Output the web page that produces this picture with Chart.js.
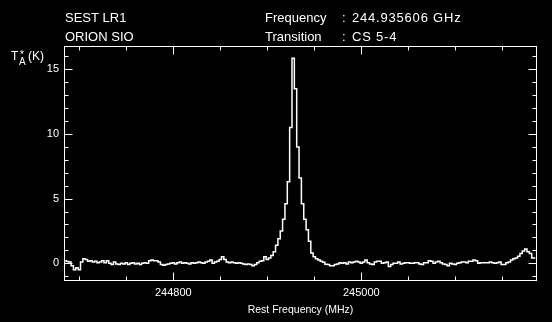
<!DOCTYPE html>
<html>
<head>
<meta charset="utf-8">
<script src="https://cdn.jsdelivr.net/npm/chart.js@4"></script>
<style>
html, body { margin: 0; background: #000; }
canvas { display: block; }
</style>
</head>
<body>
<canvas id="spectrum" width="552" height="322"></canvas>
<script>
// channel grid of the spectrum (MHz)
var firstChan = 244685, chanWidth = 2.5
// antenna temperature T*A (K), one value per channel
var tempK = [
    0.2, 0.13, 0.1, -0.2, -0.5, -0.35, -0.5, 0.1, 0.35, 0.3,
    0.15, 0.2, 0.1, 0.15, 0.05, 0.1, 0.2, 0.05, 0.2, 0.0,
    -0.1, 0.1, -0.05, -0.1, 0.0, -0.05, 0.05, -0.1, 0.0, 0.05,
    -0.05, 0.0, -0.1, 0.0, 0.05, 0.0, 0.2, 0.25, 0.2, 0.2,
    0.1, -0.1, -0.15, -0.1, -0.05, 0.0, 0.05, -0.05, 0.05, 0.1,
    0.0, 0.05, 0.0, -0.05, 0.05, 0.0, 0.05, 0.1, 0.05, 0.0,
    0.1, 0.15, 0.25, 0.0, 0.1, 0.15, 0.3, 0.5, 0.3, 0.1,
    0.05, 0.1, 0.05, 0.0, 0.05, 0.0, -0.05, -0.1, -0.05, -0.1,
    -0.2, -0.1, 0.05, 0.15, 0.2, 0.5, 0.3, 0.4, 0.6, 0.9,
    1.4, 1.9, 2.5, 3.4, 4.6, 6.3, 10.5, 15.85, 13.5, 9.0,
    6.6, 4.6, 3.4, 2.6, 1.7, 0.8, 0.5, 0.35, 0.25, 0.15,
    0.08, -0.08, -0.1, -0.2, -0.2, -0.1, -0.05, 0.05, 0.0, 0.05,
    -0.05, 0.1, 0.05, 0.1, 0.15, 0.1, 0.0, 0.1, 0.25, 0.05,
    -0.05, -0.1, 0.1, 0.15, 0.15, 0.0, 0.05, 0.1, -0.25, -0.1,
    0.0, 0.0, 0.1, -0.05, 0.0, 0.05, 0.05, 0.0, 0.0, 0.05,
    0.05, -0.05, -0.1, 0.05, 0.05, 0.2, 0.15, 0.0, 0.1, 0.15,
    0.05, -0.05, -0.1, -0.2, 0.0, -0.05, -0.1, 0.0, 0.05, 0.1,
    0.1, 0.05, 0.15, 0.15, 0.25, 0.2, 0.0, 0.05, 0.05, 0.05,
    0.05, 0.1, 0.05, 0.0, 0.05, 0.1, -0.1, -0.1, 0.05, 0.1,
    0.25, 0.35, 0.4, 0.55, 0.75, 0.95, 1.1, 0.9, 0.75, 0.4, 0.4
]
var xLabelTicks = [244800, 245000]
var xSmallTicks = [244700, 244750, 244800, 244850, 244900, 244950, 245000, 245050, 245100, 245150]
var yLabelTicks = [0, 5, 10, 15]
var ySmallTicks = [-1, 0, 1, 2, 3, 4, 5, 6, 7, 8, 9, 10, 11, 12, 13, 14, 15, 16]
var headerLeft = ['SEST LR1', 'ORION SIO']
var headerKeys = ['Frequency', 'Transition']
var headerVals = ['244.935606 GHz', 'CS 5-4']

var points = tempK.map(function(t, i){ return {x: firstChan + i*chanWidth, y: t} })
var fam = '"Liberation Sans", Arial, sans-serif'

// black page, boxed frame with inward ticks, header lines
var framePlugin = {
    id: 'frame',
    beforeDraw: function(chart){
        var ctx = chart.ctx
        ctx.save()
        ctx.fillStyle = '#000'
        ctx.fillRect(0, 0, chart.width, chart.height)
        ctx.restore()
    },
    afterDraw: function(chart){
        var ctx = chart.ctx, a = chart.chartArea
        var xs = chart.scales.x, ys = chart.scales.y
        var L = Math.round(a.left) + 0.5, R = Math.round(a.right) - 0.5
        var T = Math.round(a.top) + 0.5, B = Math.round(a.bottom) - 0.5
        ctx.save()
        ctx.strokeStyle = '#fff'
        ctx.lineWidth = 1
        ctx.strokeRect(L, T, R - L, B - T)
        ctx.beginPath()
        xSmallTicks.forEach(function(v){
            var px = Math.round(xs.getPixelForValue(v)) + 0.5
            var len = xLabelTicks.indexOf(v) >= 0 ? 8 : 4
            ctx.moveTo(px, B); ctx.lineTo(px, B - len)
            ctx.moveTo(px, T); ctx.lineTo(px, T + len)
        })
        ySmallTicks.forEach(function(v){
            var py = Math.round(ys.getPixelForValue(v)) + 0.5
            var len = yLabelTicks.indexOf(v) >= 0 ? 8 : 4
            ctx.moveTo(L, py); ctx.lineTo(L + len, py)
            ctx.moveTo(R, py); ctx.lineTo(R - len, py)
        })
        ctx.stroke()

        ctx.fillStyle = '#fff'
        ctx.textBaseline = 'middle'
        ctx.textAlign = 'left'
        ctx.font = '13px ' + fam
        var rows = [18, 37]
        for (var i = 0; i < 2; i++) {
            ctx.letterSpacing = '0px'
            ctx.fillText(headerLeft[i], 65, rows[i])
            ctx.fillText(headerKeys[i], 265, rows[i])
            ctx.fillText(':', 342, rows[i])
            ctx.letterSpacing = '0.8px'
            ctx.fillText(headerVals[i], 352, rows[i])
        }
        ctx.letterSpacing = '0px'
        // y axis label T*A (K)
        ctx.font = '12px ' + fam
        ctx.fillText('T', 11, 57)
        ctx.fillText('(K)', 28, 57)
        ctx.font = '10px ' + fam
        ctx.fillText('A', 19, 62)
        ctx.fillText('*', 20, 55)
        ctx.restore()
    }
}

var ctx = document.getElementById('spectrum').getContext('2d')
var specChart = new Chart(ctx, {
    type: 'line',
    data: {
        datasets: [{
            data: points,
            borderColor: '#fff',
            borderWidth: 1.5,
            pointRadius: 0,
            stepped: 'middle',
            fill: false
        }]
    },
    options: {
        responsive: false,
        animation: false,
        events: [],
        layout: { padding: { top: 46, right: 15, left: 0, bottom: 0 } },
        plugins: { legend: { display: false }, tooltip: { enabled: false } },
        scales: {
            x: {
                type: 'linear',
                min: 244683.7,
                max: 245186.9,
                grid: { display: false, drawTicks: false },
                border: { display: false },
                afterBuildTicks: function(s){ s.ticks = xLabelTicks.map(function(v){ return {value: v} }) },
                afterFit: function(s){ s.height = 41 },
                ticks: {
                    color: '#fff', padding: 5, maxRotation: 0, autoSkip: false,
                    font: { family: fam, size: 11 },
                    callback: function(v){ return String(v) }
                },
                title: {
                    display: true, text: 'Rest Frequency (MHz)', color: '#fff',
                    font: { family: fam, size: 10.5 }, padding: { top: 0, bottom: 6 }
                }
            },
            y: {
                min: -1.37,
                max: 16.8,
                grid: { display: false, drawTicks: false },
                border: { display: false },
                afterBuildTicks: function(s){ s.ticks = yLabelTicks.map(function(v){ return {value: v} }) },
                afterFit: function(s){ s.width = 64 },
                ticks: { color: '#fff', padding: 5, font: { family: fam, size: 11 } }
            }
        }
    },
    plugins: [framePlugin]
})
</script>
</body>
</html>
